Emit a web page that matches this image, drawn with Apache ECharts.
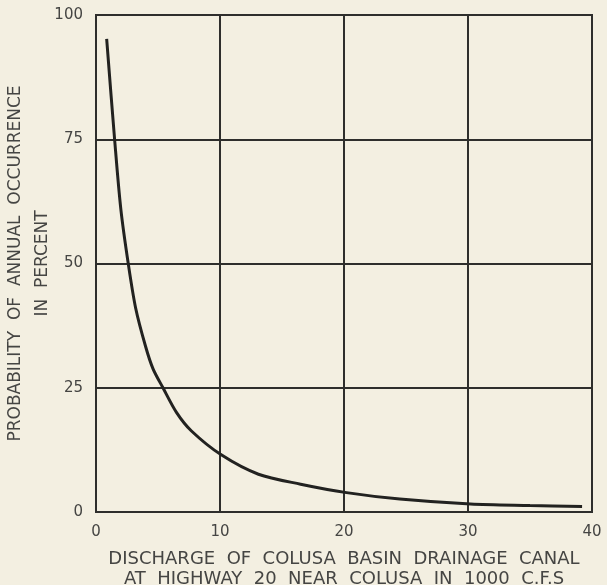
<!DOCTYPE html>
<html>
<head>
<meta charset="utf-8">
<script src="https://cdn.jsdelivr.net/npm/echarts@6/dist/echarts.min.js"></script>
<style>
html,body{margin:0;padding:0;background:#f3efe1;}
#chart{width:607px;height:585px;}
</style>
</head>
<body>
<div id="chart"></div>
<script>
// Discharge (1000 c.f.s.) and probability of annual occurrence (percent)
const discharge   = [0.86, 1.5, 2.0, 2.6, 3.2, 4.0, 4.6, 5.4, 6.5, 7.7, 10.1, 13.1, 16.5, 20.2, 24.5, 30.2, 35.0, 39.2];
const probability = [95.2, 75.0, 61.0, 50.0, 41.0, 33.3, 28.8, 25.0, 20.0, 16.3, 11.5, 7.6, 5.6, 3.9, 2.6, 1.6, 1.3, 1.1];
const xTicks = [0, 10, 20, 30, 40];
const yTicks = [0, 25, 50, 75, 100];
const xTitle = ['DISCHARGE  OF  COLUSA  BASIN  DRAINAGE  CANAL', 'AT  HIGHWAY  20  NEAR  COLUSA  IN  1000  C.F.S'];
const yTitle = ['PROBABILITY  OF  ANNUAL  OCCURRENCE', 'IN  PERCENT'];

const ink = '#2e2e2c';
const textInk = '#454543';
const font = 'DejaVu Sans';

const chart = echarts.init(document.getElementById('chart'), null, {renderer: 'canvas'});
chart.setOption({
  backgroundColor: '#f3efe1',
  animation: false,
  grid: {left: 96, right: 15, top: 15, bottom: 73, containLabel: false, outerBoundsMode: 'none',
         show: true, borderColor: ink, borderWidth: 2, backgroundColor: 'transparent'},
  xAxis: {
    type: 'value', min: xTicks[0], max: xTicks[xTicks.length - 1], interval: 10,
    axisLine: {show: false}, axisTick: {show: false},
    splitLine: {show: true, lineStyle: {color: ink, width: 2}},
    axisLabel: {color: textInk, fontFamily: font, fontSize: 15, margin: 13},
    name: xTitle.join('\n'), nameLocation: 'middle', nameGap: 37, nameMoveOverlap: false,
    nameTextStyle: {color: textInk, fontFamily: font, fontSize: 18, lineHeight: 20}
  },
  yAxis: {
    type: 'value', min: yTicks[0], max: yTicks[yTicks.length - 1], interval: 25,
    axisLine: {show: false}, axisTick: {show: false},
    splitLine: {show: true, lineStyle: {color: ink, width: 2}},
    axisLabel: {color: textInk, fontFamily: font, fontSize: 15, margin: 13},
    name: yTitle.join('\n'), nameLocation: 'middle', nameGap: 40, nameMoveOverlap: false,
    nameTextStyle: {color: textInk, fontFamily: font, fontSize: 17, lineHeight: 27}
  },
  series: [{
    type: 'line',
    data: discharge.map((d, i) => [d, probability[i]]),
    smooth: 0.3,
    showSymbol: false,
    lineStyle: {color: '#222220', width: 3}
  }]
});
</script>
</body>
</html>
